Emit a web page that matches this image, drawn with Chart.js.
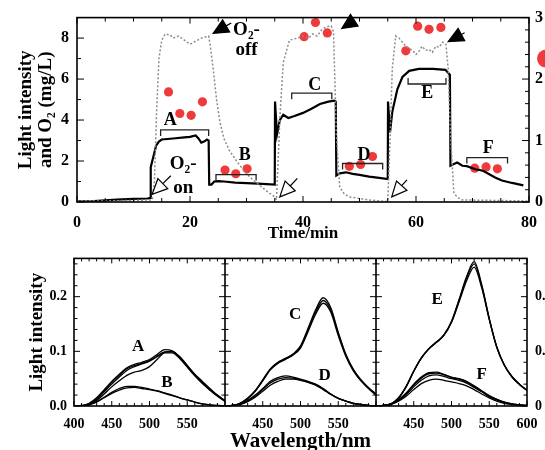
<!DOCTYPE html>
<html>
<head>
<meta charset="utf-8">
<title>Light intensity, O2 and spectra</title>
<script src="https://cdn.jsdelivr.net/npm/chart.js@4.4.0/dist/chart.umd.min.js"></script>
<style>
  html, body { margin: 0; padding: 0; background: #fff; overflow: hidden; width: 545px; height: 450px; }
  #topChart { position: absolute; left: 0; top: 0; }
  #bottomChart { position: absolute; left: 0; top: 242px; }
</style>
</head>
<body>
<canvas id="topChart" width="570" height="245"></canvas>
<canvas id="bottomChart" width="570" height="215"></canvas>
<script>
// ---- top panel: time course ----
var timeLight = [0, 3, 5, 7, 10, 12.5, 13, 13.05, 13.5, 14, 14.5, 15, 17, 19, 20, 21, 21.5, 22, 22.5, 23, 23.3,
  23.4, 23.8, 24.3, 25, 26, 28, 30, 32, 35, 35.05, 35.4, 35.9, 36.5, 37.4, 38.5, 40, 41.5, 43, 44.5, 45.5, 45.8,
  45.9, 46.5, 47.6, 48.8, 50, 51.7, 53.5, 55, 55.05, 55.4, 55.8, 56.7, 57.6, 58.8, 60.5, 63, 65.2, 65.8, 66,
  66.1, 66.7, 67.3, 68.2, 69, 70.5, 71.5, 72, 72.9, 74, 75.2, 77, 79];
var light = [0.03, 0.04, 0.08, 0.12, 0.15, 0.17, 0.2, 1.7, 2.2, 2.75, 2.95, 3.05, 3.1, 3.15, 3.18, 3.25, 3.1, 2.9, 2.95, 3.05, 3.0,
  0.85, 0.85, 1.0, 1.02, 1.0, 0.95, 0.92, 0.9, 0.85, 4.9, 3.3, 4.0, 4.26, 4.1, 4.2, 4.35, 4.55, 4.78, 4.9, 4.95, 4.9,
  1.29, 1.4, 1.45, 1.37, 1.32, 1.24, 1.18, 1.12, 4.9, 3.4, 4.4, 5.5, 6.1, 6.4, 6.5, 6.5, 6.45, 6.27, 6.2,
  1.77, 1.85, 1.93, 1.77, 1.75, 1.6, 1.55, 1.5, 1.37, 1.2, 1.05, 0.93, 0.81];

var timeO2 = [0, 5, 10, 13.3, 13.7, 14.1, 14.5, 15, 15.6, 16.5, 17, 18, 19, 20, 21, 22, 23.3, 23.6, 24.1, 24.7, 25.3,
  26, 27, 28.5, 30, 31.5, 33.4, 35, 35.3, 35.6, 35.9, 36.5, 37.6, 39, 40, 41, 41.7, 42.5, 43.3, 44.1, 45, 45.4,
  45.9, 46.5, 47.3, 48.2, 51.7, 55, 55.4, 55.8, 56.4, 57, 57.6, 58.2, 58.8, 59.4, 60, 60.5, 61.1, 61.7, 62.3,
  62.9, 63.5, 64.1, 64.7, 65.3, 65.7, 66.1, 66.7, 67.5, 68.2, 80];
var o2 = [0.05, 0.05, 0.08, 0.1, 1.0, 4.5, 7.0, 7.9, 8.2, 8.15, 8.0, 8.1, 7.9, 7.7, 7.85, 8.0, 8.1, 7.6, 6.5, 5.0, 3.9,
  3.1, 2.5, 1.9, 1.38, 1.0, 0.57, 0.25, 0.1, 2.0, 4.1, 6.8, 7.9, 8.0, 8.1, 8.0, 8.2, 8.1, 8.4, 8.55, 8.6, 8.3,
  3.3, 0.73, 0.4, 0.25, 0.1, 0.02, 3.0, 6.5, 8.1, 8.0, 7.8, 7.6, 7.5, 7.4, 7.2, 7.35, 7.6, 7.4, 7.45,
  7.3, 7.6, 7.55, 7.8, 7.7, 6.5, 3.3, 0.42, 0.2, 0.1, 0.05];

// red dots, read on the right axis (0-3)
var dotTime = [16.2, 18.2, 20.2, 22.2, 26.2, 28.1, 30.1, 40.2, 42.2, 44.3, 48.2, 50.2, 52.3, 58.2, 60.3, 62.3, 64.4, 70.4, 72.4, 74.4];
var dotValue = [1.79, 1.44, 1.41, 1.63, 0.52, 0.46, 0.54, 2.69, 2.92, 2.75, 0.58, 0.61, 0.74, 2.46, 2.86, 2.81, 2.84, 0.55, 0.57, 0.54];

var timeTicks = [0, 20, 40, 60, 80];
var leftTicks = [0, 2, 4, 6, 8];
var rightTicks = [0, 1, 2, 3];

// sampling windows
var windowName = ['A', 'B', 'C', 'D', 'E', 'F'];
var windowFrom = [14.8, 24.6, 38, 47, 58.6, 69];
var windowTo = [23.3, 31.7, 45.1, 54.1, 65.3, 76.2];
var windowLevel = [3.52, 1.34, 5.31, 1.88, 5.76, 2.17];
var windowOpensUp = [false, false, false, false, true, false];
var windowLabelAt = [[16.5, 4.0], [29.7, 2.27], [42.1, 5.68], [50.8, 2.3], [62, 5.28], [72.8, 2.62]];

var offArrowTip = [[24.1, 8.23], [46.85, 8.47], [65.7, 7.83]];
var offArrowTail = [[27.3, 8.74], [48.8, 8.82], [68.6, 8.26]];
var onArrowTip = [[13.3, 0.38], [35.9, 0.25], [55.7, 0.25]];
var onArrowTail = [[16.6, 1.28], [39.0, 1.15], [58.4, 1.08]];
var noteText = ['O₂-', 'off', 'O₂-', 'on'];
var noteAt = [[30.0, 8.37], [30.0, 7.42], [18.8, 1.87], [18.8, 0.67]];

// ---- bottom panels: spectra ----
var wavelength = [400, 410, 420, 430, 440, 450, 460, 470, 480, 490, 500, 510, 520, 530, 540, 550, 560, 570, 580, 590, 600];
var spectraA = [
  [0, 0.001, 0.005, 0.015, 0.03, 0.045, 0.058, 0.07, 0.076, 0.08, 0.085, 0.094, 0.103, 0.101, 0.09, 0.074, 0.058, 0.045, 0.032, 0.02, 0.01],
  [0, 0, 0.004, 0.013, 0.028, 0.043, 0.056, 0.068, 0.074, 0.078, 0.083, 0.091, 0.099, 0.099, 0.088, 0.072, 0.056, 0.043, 0.03, 0.019, 0.009],
  [0, 0, 0.004, 0.012, 0.026, 0.04, 0.053, 0.065, 0.072, 0.077, 0.082, 0.09, 0.097, 0.097, 0.087, 0.071, 0.055, 0.041, 0.029, 0.018, 0.008],
  [0, 0, 0.003, 0.01, 0.022, 0.035, 0.046, 0.056, 0.062, 0.065, 0.072, 0.085, 0.098, 0.1, 0.09, 0.074, 0.057, 0.043, 0.03, 0.019, 0.009]
];
var spectraB = [
  [0, 0, 0.003, 0.008, 0.016, 0.025, 0.032, 0.036, 0.036, 0.034, 0.031, 0.028, 0.024, 0.02, 0.015, 0.011, 0.007, 0.004, 0.002, 0.001, 0],
  [0, 0, 0.002, 0.007, 0.015, 0.023, 0.029, 0.033, 0.034, 0.032, 0.03, 0.027, 0.023, 0.019, 0.015, 0.011, 0.007, 0.004, 0.002, 0.001, 0]
];
var spectraC = [
  [0, 0.001, 0.005, 0.014, 0.028, 0.048, 0.068, 0.08, 0.087, 0.095, 0.11, 0.142, 0.176, 0.198, 0.18, 0.135, 0.095, 0.067, 0.048, 0.034, 0.022],
  [0, 0.001, 0.005, 0.014, 0.028, 0.047, 0.067, 0.079, 0.086, 0.094, 0.108, 0.139, 0.172, 0.193, 0.176, 0.132, 0.093, 0.066, 0.047, 0.033, 0.021],
  [0, 0.001, 0.005, 0.013, 0.027, 0.046, 0.066, 0.078, 0.085, 0.093, 0.106, 0.136, 0.168, 0.188, 0.172, 0.129, 0.091, 0.064, 0.046, 0.032, 0.02]
];
var spectraD = [
  [0, 0.001, 0.004, 0.01, 0.02, 0.032, 0.045, 0.052, 0.055, 0.053, 0.049, 0.045, 0.04, 0.032, 0.022, 0.014, 0.009, 0.005, 0.003, 0.001, 0],
  [0, 0.001, 0.003, 0.009, 0.018, 0.03, 0.042, 0.049, 0.052, 0.051, 0.048, 0.044, 0.039, 0.031, 0.022, 0.014, 0.009, 0.005, 0.003, 0.001, 0],
  [0, 0, 0.003, 0.008, 0.016, 0.027, 0.038, 0.045, 0.049, 0.049, 0.047, 0.043, 0.038, 0.03, 0.021, 0.014, 0.009, 0.005, 0.003, 0.001, 0]
];
var spectraE = [
  [0, 0.001, 0.004, 0.015, 0.036, 0.064, 0.088, 0.105, 0.117, 0.13, 0.155, 0.195, 0.237, 0.264, 0.222, 0.16, 0.108, 0.075, 0.054, 0.04, 0.029],
  [0, 0.001, 0.004, 0.015, 0.036, 0.064, 0.088, 0.105, 0.117, 0.13, 0.154, 0.193, 0.234, 0.26, 0.22, 0.16, 0.108, 0.075, 0.054, 0.04, 0.029],
  [0, 0.001, 0.004, 0.015, 0.035, 0.063, 0.087, 0.104, 0.116, 0.129, 0.153, 0.19, 0.229, 0.254, 0.216, 0.158, 0.107, 0.074, 0.053, 0.039, 0.028]
];
var spectraF = [
  [0, 0.001, 0.004, 0.012, 0.024, 0.04, 0.053, 0.061, 0.062, 0.058, 0.053, 0.05, 0.045, 0.037, 0.028, 0.019, 0.012, 0.007, 0.004, 0.002, 0.001],
  [0, 0.001, 0.004, 0.011, 0.023, 0.038, 0.051, 0.059, 0.06, 0.057, 0.052, 0.049, 0.044, 0.036, 0.027, 0.018, 0.012, 0.007, 0.004, 0.002, 0.001],
  [0, 0.001, 0.003, 0.01, 0.021, 0.035, 0.047, 0.055, 0.057, 0.054, 0.05, 0.047, 0.042, 0.034, 0.026, 0.017, 0.011, 0.006, 0.003, 0.002, 0.001],
  [0, 0, 0.003, 0.009, 0.018, 0.03, 0.041, 0.047, 0.049, 0.047, 0.044, 0.041, 0.037, 0.03, 0.022, 0.015, 0.009, 0.005, 0.003, 0.001, 0]
];
var panelSpectra = [spectraA.concat(spectraB), spectraC.concat(spectraD), spectraE.concat(spectraF)];
var panelLetters = [['A', 'B'], ['C', 'D'], ['E', 'F']];
var panelLetterAt = [[[485, 0.108], [523, 0.043]], [[493, 0.168], [532, 0.055]], [[481, 0.195], [540, 0.058]]];
var panelTickLabels = [[400, 450, 500, 550], [450, 500, 550], [450, 500, 550, 600]];
var spectraTicks = [0, 0.1, 0.2];

// each panel spans 200 nm on one shared axis
var PANEL_SPAN = 200;

var serif = '"Liberation Serif", "Times New Roman", serif';
Chart.defaults.font.family = serif;
Chart.defaults.font.weight = 'bold';
Chart.defaults.color = '#000';

// box + inward ticks
var frameTicks = {
  id: 'frameTicks',
  afterDatasetsDraw: function (chart, args, o) {
    var ctx = chart.ctx, a = chart.chartArea;
    ctx.save();
    ctx.strokeStyle = '#000';
    ctx.lineWidth = 1;
    o.marks.forEach(function (m) {
      var s = chart.scales[m.scale];
      var n = Math.round((m.to - m.from) / m.step);
      for (var i = 0; i <= n; i++) {
        var v = m.from + i * m.step;
        var r = (v - m.from) / m.major;
        var len = Math.abs(r - Math.round(r)) < 1e-6 ? m.long : m.short;
        var p = s.getPixelForValue(v);
        ctx.beginPath();
        m.at.forEach(function (side) {
          if (side === 'bottom') { ctx.moveTo(p, a.bottom); ctx.lineTo(p, a.bottom - len); }
          else if (side === 'top') { ctx.moveTo(p, a.top); ctx.lineTo(p, a.top + len); }
          else if (side === 'left') { ctx.moveTo(a.left, p); ctx.lineTo(a.left + len, p); }
          else if (side === 'right') { ctx.moveTo(a.right, p); ctx.lineTo(a.right - len, p); }
          else {
            var xp = chart.scales.x.getPixelForValue(side);
            ctx.moveTo(xp - len, p); ctx.lineTo(xp + len, p);
          }
        });
        ctx.stroke();
      }
    });
    ctx.lineWidth = 1.6;
    (o.dividers || []).forEach(function (d) {
      var xp = chart.scales.x.getPixelForValue(d);
      ctx.beginPath(); ctx.moveTo(xp, a.top); ctx.lineTo(xp, a.bottom); ctx.stroke();
    });
    ctx.strokeRect(a.left, a.top, a.width, a.height);
    ctx.restore();
  }
};

function drawArrow(ctx, tip, tail, filled) {
  var ang = Math.atan2(tail[1] - tip[1], tail[0] - tip[0]);
  var L = 15, W = 7;
  var c = Math.cos(ang), s = Math.sin(ang);
  var bx = tip[0] + L * c, by = tip[1] + L * s;
  ctx.beginPath(); ctx.moveTo(bx, by); ctx.lineTo(tail[0], tail[1]); ctx.stroke();
  ctx.beginPath();
  ctx.moveTo(tip[0], tip[1]);
  ctx.lineTo(bx + W * s, by - W * c);
  ctx.lineTo(bx - W * s, by + W * c);
  ctx.closePath();
  ctx.fillStyle = filled ? '#000' : '#fff';
  ctx.fill();
  ctx.stroke();
}

var timeNotes = {
  id: 'timeNotes',
  afterDatasetsDraw: function (chart) {
    var ctx = chart.ctx, x = chart.scales.x, y = chart.scales.y, a = chart.chartArea;
    var px = function (p) { return [x.getPixelForValue(p[0]), y.getPixelForValue(p[1])]; };
    ctx.save();
    ctx.strokeStyle = '#222';
    ctx.lineWidth = 1.3;
    ctx.fillStyle = '#000';
    ctx.textAlign = 'center';
    ctx.textBaseline = 'middle';
    ctx.font = 'bold 18px ' + serif;
    windowName.forEach(function (name, i) {
      var x1 = x.getPixelForValue(windowFrom[i]), x2 = x.getPixelForValue(windowTo[i]);
      var yb = y.getPixelForValue(windowLevel[i]);
      var d = windowOpensUp[i] ? -6 : 6;
      ctx.beginPath();
      ctx.moveTo(x1, yb + d); ctx.lineTo(x1, yb); ctx.lineTo(x2, yb); ctx.lineTo(x2, yb + d);
      ctx.stroke();
      var lp = px(windowLabelAt[i]);
      ctx.fillStyle = '#000';
      ctx.fillText(name, lp[0], lp[1]);
    });
    ctx.strokeStyle = '#000';
    ctx.lineWidth = 1.2;
    offArrowTip.forEach(function (t, i) { drawArrow(ctx, px(t), px(offArrowTail[i]), true); });
    onArrowTip.forEach(function (t, i) { drawArrow(ctx, px(t), px(onArrowTail[i]), false); });
    ctx.fillStyle = '#000';
    ctx.font = 'bold 19px ' + serif;
    noteText.forEach(function (t, i) {
      var p = px(noteAt[i]);
      ctx.fillText(t, p[0], p[1]);
    });
    // symbol of the right-axis title (cut by the page edge)
    ctx.fillStyle = '#ee3a3a';
    ctx.beginPath();
    ctx.arc(a.right + 17, a.top + 41, 9, 0, Math.PI * 2);
    ctx.fill();
    ctx.restore();
  }
};

var spectraNotes = {
  id: 'spectraNotes',
  afterDatasetsDraw: function (chart) {
    var ctx = chart.ctx, x = chart.scales.x, y = chart.scales.y;
    ctx.save();
    ctx.fillStyle = '#000';
    ctx.textAlign = 'center';
    ctx.textBaseline = 'middle';
    ctx.font = 'bold 17px ' + serif;
    panelLetters.forEach(function (pair, k) {
      pair.forEach(function (name, j) {
        var p = panelLetterAt[k][j];
        ctx.fillText(name, x.getPixelForValue(p[0] + k * PANEL_SPAN), y.getPixelForValue(p[1]));
      });
    });
    ctx.restore();
  }
};

function fixedTicks(list) {
  return function (scale) { scale.ticks = list.map(function (v) { return { value: v }; }); };
}

// ---- top chart ----
new Chart(document.getElementById('topChart'), {
  type: 'line',
  data: {
    datasets: [
      {
        data: timeO2.map(function (t, i) { return { x: t, y: o2[i] }; }),
        borderColor: '#8c8c8c', borderWidth: 1.5, borderDash: [2, 2],
        pointRadius: 0, tension: 0, yAxisID: 'y'
      },
      {
        data: timeLight.map(function (t, i) { return { x: t, y: light[i] }; }),
        borderColor: '#000', borderWidth: 2.2,
        pointRadius: 0, tension: 0, yAxisID: 'y'
      },
      {
        data: dotTime.map(function (t, i) { return { x: t, y: dotValue[i] }; }),
        showLine: false, pointRadius: 4.6, pointBorderWidth: 0,
        pointBackgroundColor: '#ee3a3a', yAxisID: 'y2'
      }
    ]
  },
  options: {
    responsive: false, animation: false, events: [],
    layout: { padding: { top: 14, left: 0, right: 0, bottom: 0 } },
    plugins: {
      legend: { display: false }, tooltip: { enabled: false },
      frameTicks: {
        marks: [
          { scale: 'x', from: 0, to: 80, step: 5, major: 20, long: 6, short: 4, at: ['bottom', 'top'] },
          { scale: 'y', from: 0, to: 9, step: 1, major: 2, long: 7, short: 4, at: ['left'] },
          { scale: 'y2', from: 0, to: 3, step: 0.2, major: 1, long: 7, short: 4, at: ['right'] }
        ]
      }
    },
    scales: {
      x: {
        type: 'linear', min: 0, max: 80,
        grid: { display: false, drawTicks: false }, border: { display: false },
        afterBuildTicks: fixedTicks(timeTicks),
        ticks: { font: { size: 16 }, padding: 11, maxRotation: 0 },
        title: { display: true, text: 'Time/min', font: { size: 17 }, padding: { top: 0, bottom: 1 } },
        afterFit: function (s) { s.height = 43; }
      },
      y: {
        position: 'left', min: 0, max: 9,
        grid: { display: false, drawTicks: false }, border: { display: false },
        afterBuildTicks: fixedTicks(leftTicks),
        ticks: { font: { size: 16 }, padding: 8 },
        title: {
          display: true, text: ['Light intensity', 'and O₂ (mg/L)'],
          font: { size: 19, lineHeight: 1.05 }, padding: { top: 16, bottom: 0 }
        },
        afterFit: function (s) { s.width = 77; }
      },
      y2: {
        position: 'right', min: 0, max: 3,
        grid: { display: false, drawTicks: false }, border: { display: false },
        afterBuildTicks: fixedTicks(rightTicks),
        ticks: { font: { size: 16 }, padding: 6 },
        afterFit: function (s) { s.width = 41; }
      }
    }
  },
  plugins: [frameTicks, timeNotes]
});

// ---- bottom chart: three panels on one shared wavelength axis ----
var specSets = [];
panelSpectra.forEach(function (curves, k) {
  curves.forEach(function (vals) {
    specSets.push({
      data: wavelength.map(function (w, i) { return { x: w + k * PANEL_SPAN, y: vals[i] }; }),
      borderColor: '#000', borderWidth: 1.3, pointRadius: 0,
      cubicInterpolationMode: 'monotone', yAxisID: 'y'
    });
  });
});
var bottomTickValues = [];
panelTickLabels.forEach(function (list, k) {
  list.forEach(function (w) { bottomTickValues.push(w + k * PANEL_SPAN); });
});

new Chart(document.getElementById('bottomChart'), {
  type: 'line',
  data: { datasets: specSets },
  options: {
    responsive: false, animation: false, events: [],
    layout: { padding: { top: 13, left: 0, right: 0, bottom: 0 } },
    plugins: {
      legend: { display: false }, tooltip: { enabled: false },
      frameTicks: {
        dividers: [600, 800],
        marks: [
          { scale: 'x', from: 400, to: 1000, step: 10, major: 50, long: 5, short: 3, at: ['bottom', 'top'] },
          { scale: 'y', from: 0, to: 0.26, step: 0.02, major: 0.1, long: 6, short: 3.5, at: ['left', 'right', 600, 800] }
        ]
      }
    },
    scales: {
      x: {
        type: 'linear', min: 400, max: 1000,
        grid: { display: false, drawTicks: false }, border: { display: false },
        afterBuildTicks: fixedTicks(bottomTickValues),
        ticks: {
          font: { size: 14 }, padding: 10, maxRotation: 0, autoSkip: false,
          callback: function (v) {
            var k = Math.min(2, Math.floor((v - 400) / PANEL_SPAN));
            return String(v - k * PANEL_SPAN);
          }
        },
        title: { display: true, text: 'Wavelength/nm', font: { size: 21 }, padding: { top: 0, bottom: 3 } },
        afterFit: function (s) { s.height = 215 - 13 - 151; }
      },
      y: {
        position: 'left', min: 0, max: 0.27,
        grid: { display: false, drawTicks: false }, border: { display: false },
        afterBuildTicks: fixedTicks(spectraTicks),
        ticks: { font: { size: 14 }, padding: 7, callback: function (v) { return v.toFixed(1); } },
        title: { display: true, text: 'Light intensity', font: { size: 19 }, padding: { top: 26, bottom: 0 } },
        afterFit: function (s) { s.width = 74; }
      },
      y2: {
        position: 'right', min: 0, max: 0.27,
        grid: { display: false, drawTicks: false }, border: { display: false },
        afterBuildTicks: fixedTicks(spectraTicks),
        ticks: { font: { size: 14 }, padding: 8, callback: function (v) { return v === 0 ? '0' : v.toFixed(1); } },
        afterFit: function (s) { s.width = 43; }
      }
    }
  },
  plugins: [frameTicks, spectraNotes]
});
</script>
</body>
</html>
